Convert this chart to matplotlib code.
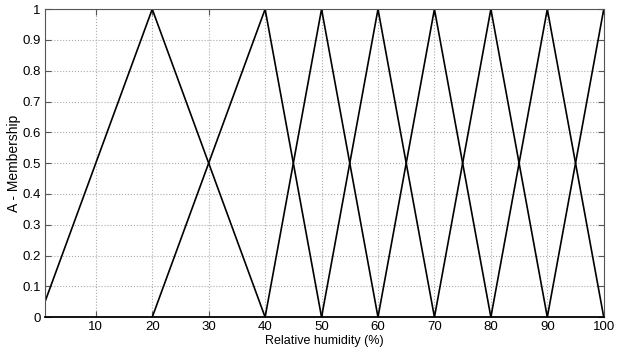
import numpy as np
import matplotlib
matplotlib.use('Agg')
import matplotlib.pyplot as plt

plt.rcParams['font.family'] = ['Liberation Sans', 'DejaVu Sans']

# triangular membership functions: (left foot, peak, right foot)
feet_left = [0, 20, 40, 50, 60, 70, 80, 90]
peaks = [20, 40, 50, 60, 70, 80, 90, 100]
feet_right = [40, 50, 60, 70, 80, 90, 100, 110]

xticks = [10, 20, 30, 40, 50, 60, 70, 80, 90, 100]
yticks = [0, 0.1, 0.2, 0.3, 0.4, 0.5, 0.6, 0.7, 0.8, 0.9, 1]

fig = plt.figure(figsize=(6.25, 3.52), dpi=100)
ax = fig.add_axes([0.072, 0.099, 0.894, 0.875])

for a, b, c in zip(feet_left, peaks, feet_right):
    ax.plot([a, b, c], [0, 1, 0], color='black', linewidth=1.2)

ax.set_xlim(1, 100)
ax.set_ylim(0, 1)
ax.set_xticks(xticks)
ax.set_yticks(yticks)
ax.set_yticklabels(['0', '0.1', '0.2', '0.3', '0.4', '0.5', '0.6', '0.7', '0.8', '0.9', '1'])
ax.tick_params(direction='in', top=True, right=True, labelsize=9.5, length=4,
               color='#555555', pad=3)
ax.grid(True, linestyle=':', color='#aaaaaa', linewidth=0.8)
for s in ax.spines.values():
    s.set_color('#555555')
ax.spines['bottom'].set_color('black')
ax.spines['bottom'].set_linewidth(1.3)

ax.set_xlabel('Relative humidity (%)', fontsize=9, labelpad=1)
ax.set_ylabel('A - Membership', fontsize=10, labelpad=1)

fig.savefig('out.png', dpi=100)
